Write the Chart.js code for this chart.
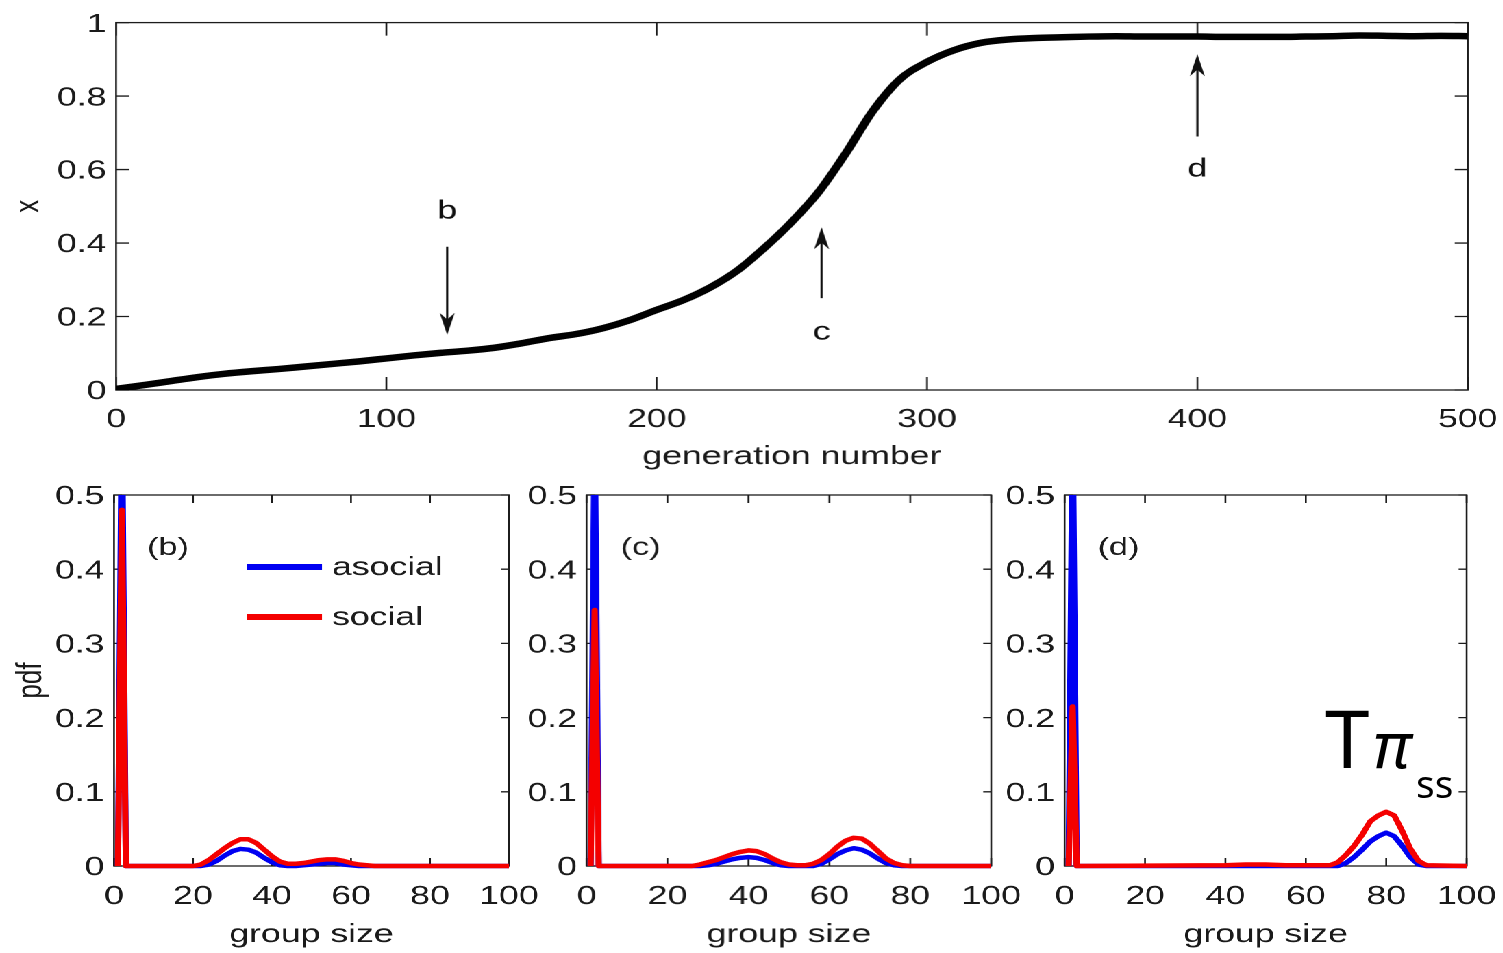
<!DOCTYPE html>
<html>
<head>
<meta charset="utf-8">
<script src="https://cdn.jsdelivr.net/npm/chart.js@4.4.0/dist/chart.umd.min.js"></script>
<style>
  html, body { margin: 0; padding: 0; background: #fff; }
  body { width: 1503px; height: 953px; overflow: hidden; position: relative; }
  #stage { position: absolute; left: 0; top: 0; width: 1120px; height: 953px; transform: scaleX(1.37); transform-origin: 0 0; }
  .wrap { position: absolute; }
  #tpi { position: absolute; left: 0; top: 0; }
</style>
</head>
<body>
<div id="stage">
  <div class="wrap"><canvas id="topChart"></canvas></div>
  <div class="wrap"><canvas id="chartB"></canvas></div>
  <div class="wrap"><canvas id="chartC"></canvas></div>
  <div class="wrap"><canvas id="chartD"></canvas></div>
</div>
<svg id="tpi" width="1503" height="953">
  <text x="1325" y="768" font-family="Noto Sans" font-size="80">T</text>
  <text x="1373" y="768" font-family="Noto Sans" font-style="italic" font-size="64">π</text>
  <text x="1416" y="798" font-family="Noto Sans" font-size="39">ss</text>
</svg>
<script>
// figure is drawn narrow and widened with CSS, like the printed version
const SX = 1.37;
const FONT = "'Liberation Sans', Arial, sans-serif";

// fraction of social learners over the generations
const generations = [0, 10, 20, 30, 40, 50, 60, 70, 80, 90, 100, 110, 120, 130, 140, 150, 160, 170, 180, 190,
  200, 210, 220, 230, 240, 250, 260, 270, 280, 290, 300, 310, 320, 330, 340, 350, 360, 370, 380, 390,
  400, 410, 420, 430, 440, 450, 460, 470, 480, 490, 500];
const socialShare = [0.003, 0.013, 0.024, 0.035, 0.044, 0.051, 0.057, 0.064, 0.071, 0.078,
  0.086, 0.094, 0.101, 0.107, 0.115, 0.127, 0.141, 0.152, 0.168, 0.190,
  0.218, 0.245, 0.280, 0.326, 0.388, 0.458, 0.540, 0.645, 0.760, 0.846,
  0.893, 0.925, 0.945, 0.954, 0.958, 0.960, 0.962, 0.963, 0.962, 0.962,
  0.962, 0.961, 0.961, 0.961, 0.962, 0.963, 0.965, 0.964, 0.963, 0.964, 0.963];
const genTicks = [0, 100, 200, 300, 400, 500];
const shareTicks = [0, 0.2, 0.4, 0.6, 0.8, 1];

// group size distributions at the three marked generations
const sizeTicks = [0, 20, 40, 60, 80, 100];
const pdfTicks = [0, 0.1, 0.2, 0.3, 0.4, 0.5];

const sizesB =    [1, 2, 3, 20, 22, 24, 26, 28, 30, 32, 34, 36, 38, 40, 42, 44, 46, 48, 50, 52, 54, 56, 58, 60, 62, 64, 66, 100];
const asocialB =  [0, 0.62, 0, 0, 0, 0.002, 0.007, 0.014, 0.020, 0.023, 0.022, 0.018, 0.011, 0.005, 0.001, 0, 0, 0.001, 0.002, 0.003, 0.004, 0.004, 0.002, 0.001, 0, 0, 0, 0];
const socialB =   [0, 0.48, 0, 0, 0.002, 0.008, 0.016, 0.024, 0.031, 0.036, 0.036, 0.031, 0.022, 0.013, 0.006, 0.003, 0.003, 0.004, 0.006, 0.008, 0.009, 0.009, 0.007, 0.004, 0.002, 0.001, 0, 0];

const sizesC =    [1, 2, 3, 26, 28, 30, 32, 34, 36, 38, 40, 42, 44, 46, 48, 50, 52, 54, 56, 58, 60, 62, 64, 66, 68, 70, 72, 74, 76, 78, 80, 100];
const asocialC =  [0, 0.60, 0, 0, 0, 0.001, 0.003, 0.006, 0.009, 0.011, 0.012, 0.011, 0.008, 0.004, 0.001, 0, 0, 0, 0, 0.003, 0.009, 0.016, 0.021, 0.024, 0.022, 0.017, 0.010, 0.004, 0.001, 0, 0, 0];
const socialC =   [0, 0.345, 0, 0, 0.002, 0.005, 0.008, 0.012, 0.016, 0.019, 0.021, 0.020, 0.016, 0.010, 0.005, 0.002, 0.001, 0.001, 0.003, 0.008, 0.016, 0.026, 0.034, 0.038, 0.037, 0.030, 0.020, 0.010, 0.004, 0.001, 0, 0];

const sizesD =    [1, 2, 3, 40, 45, 50, 55, 60, 66, 68, 70, 72, 74, 76, 78, 80, 82, 84, 86, 88, 90, 100];
const asocialD =  [0, 0.60, 0, 0, 0, 0, 0, 0, 0, 0, 0.004, 0.012, 0.022, 0.033, 0.040, 0.045, 0.040, 0.027, 0.012, 0.002, 0, 0];
const socialD =   [0, 0.215, 0, 0.001, 0.002, 0.002, 0.001, 0.001, 0.001, 0.005, 0.015, 0.027, 0.042, 0.060, 0.068, 0.073, 0.068, 0.047, 0.023, 0.007, 0.001, 0];

// arrows pointing at the sampled generations
const markers = [
  { label: 'b', gen: 122.5, tail: 0.39, head: 0.15, text: 0.486 },
  { label: 'c', gen: 261, tail: 0.25, head: 0.443, text: 0.157 },
  { label: 'd', gen: 400, tail: 0.69, head: 0.914, text: 0.60 }
];

const BLUE = '#0000f2';
const RED = '#f40000';

const pts = (xs, ys) => xs.map((x, i) => ({ x: x, y: ys[i] }));

// box with inward ticks on all four sides
const matlabBox = {
  id: 'matlabBox',
  beforeDatasetsDraw(chart, args, opts) {
    const { ctx, chartArea: a, scales: { x, y } } = chart;
    ctx.save();
    ctx.strokeStyle = '#1c1c1c';
    ctx.lineWidth = 1.3;
    ctx.strokeRect(a.left, a.top, a.right - a.left, a.bottom - a.top);
    ctx.beginPath();
    x.ticks.forEach(t => {
      const px = x.getPixelForValue(t.value);
      ctx.moveTo(px, a.bottom); ctx.lineTo(px, a.bottom - opts.len);
      ctx.moveTo(px, a.top); ctx.lineTo(px, a.top + opts.len);
    });
    y.ticks.forEach(t => {
      const py = y.getPixelForValue(t.value);
      ctx.moveTo(a.left, py); ctx.lineTo(a.left + opts.len / SX, py);
      ctx.moveTo(a.right, py); ctx.lineTo(a.right - opts.len / SX, py);
    });
    ctx.stroke();
    ctx.restore();
  }
};

const arrows = {
  id: 'arrows',
  afterDatasetsDraw(chart, args, opts) {
    const { ctx, scales: { x, y } } = chart;
    ctx.save();
    ctx.fillStyle = '#111';
    ctx.strokeStyle = '#111';
    ctx.lineWidth = 1.6;
    opts.items.forEach(m => {
      const px = x.getPixelForValue(m.gen);
      const y0 = y.getPixelForValue(m.tail);
      const y1 = y.getPixelForValue(m.head);
      const dir = y1 > y0 ? 1 : -1;
      const len = 22, hw = 7.5 / SX;
      ctx.beginPath();
      ctx.moveTo(px, y0);
      ctx.lineTo(px, y1 - dir * len * 0.6);
      ctx.stroke();
      ctx.beginPath();
      ctx.moveTo(px, y1);
      ctx.lineTo(px - hw, y1 - dir * len);
      ctx.lineTo(px, y1 - dir * len * 0.7);
      ctx.lineTo(px + hw, y1 - dir * len);
      ctx.closePath();
      ctx.fill();
      ctx.font = '26px ' + FONT;
      ctx.textAlign = 'center';
      ctx.textBaseline = 'middle';
      ctx.fillText(m.label, px, y.getPixelForValue(m.text));
    });
    ctx.restore();
  }
};

// panel letter and, for (b), the series key
const panelText = {
  id: 'panelText',
  afterDraw(chart, args, opts) {
    const { ctx, chartArea: a } = chart;
    ctx.save();
    ctx.fillStyle = '#1c1c1c';
    ctx.font = '25px ' + FONT;
    ctx.textAlign = 'center';
    ctx.textBaseline = 'middle';
    ctx.fillText(opts.tag, a.left + 54 / SX, a.top + 53);
    if (opts.key) {
      ctx.font = '26px ' + FONT;
      ctx.textAlign = 'left';
      ctx.lineWidth = 6;
      opts.key.forEach((k, i) => {
        const ly = a.top + 72 + i * 50;
        ctx.strokeStyle = k.color;
        ctx.beginPath();
        ctx.moveTo(a.left + 133 / SX, ly);
        ctx.lineTo(a.left + 208 / SX, ly);
        ctx.stroke();
        ctx.fillText(k.text, a.left + 218 / SX, ly + 1);
      });
    }
    ctx.restore();
  }
};

function tickFont() { return { family: FONT, size: 26 }; }

function makeChart(id, area, pad, cfg) {
  const canvas = document.getElementById(id);
  const wrap = canvas.parentNode;
  wrap.style.left = (area.left - pad.l) / SX + 'px';
  wrap.style.top = (area.top - pad.t) + 'px';
  wrap.style.width = (area.right - area.left + pad.l + pad.r) / SX + 'px';
  wrap.style.height = (area.bottom - area.top + pad.t + pad.b) + 'px';

  return new Chart(canvas, {
    type: 'line',
    data: { datasets: cfg.datasets },
    plugins: cfg.plugins,
    options: {
      responsive: true,
      maintainAspectRatio: false,
      animation: false,
      devicePixelRatio: 2,
      layout: { padding: { top: pad.t, right: pad.r / SX, left: 0, bottom: 0 } },
      elements: { point: { radius: 0 } },
      plugins: Object.assign({ legend: { display: false }, tooltip: { enabled: false } }, cfg.pluginOpts),
      scales: {
        x: {
          type: 'linear',
          min: cfg.xTicks[0],
          max: cfg.xTicks[cfg.xTicks.length - 1],
          grid: { display: false, drawTicks: false },
          border: { display: false },
          afterBuildTicks: s => { s.ticks = cfg.xTicks.map(v => ({ value: v })); },
          afterFit: s => { s.height = pad.b; },
          ticks: { color: '#1a1a1a', font: tickFont(), padding: cfg.xPad, maxRotation: 0, autoSkip: false, callback: v => String(v) },
          title: cfg.xTitle ? { display: true, text: cfg.xTitle, color: '#1a1a1a', font: { family: FONT, size: 26, lineHeight: 1 }, padding: { top: 0, bottom: cfg.xTitlePad } } : { display: false }
        },
        y: {
          type: 'linear',
          min: cfg.yTicks[0],
          max: cfg.yTicks[cfg.yTicks.length - 1],
          grid: { display: false, drawTicks: false },
          border: { display: false },
          afterBuildTicks: s => { s.ticks = cfg.yTicks.map(v => ({ value: v })); },
          afterFit: s => { s.width = pad.l / SX; },
          ticks: { color: '#1a1a1a', font: tickFont(), padding: 7, labelOffset: 2, callback: v => String(v) },
          title: cfg.yTitle ? { display: true, text: cfg.yTitle, color: '#1a1a1a', font: { family: FONT, size: 26, lineHeight: 1 }, padding: { top: cfg.yTitlePad, bottom: 0 } } : { display: false }
        }
      }
    }
  });
}

makeChart('topChart', { left: 116, right: 1467, top: 20, bottom: 390 }, { l: 116, r: 56, t: 20, b: 85 }, {
  xTicks: genTicks, yTicks: shareTicks, xPad: 14,
  xTitle: 'generation number', xTitlePad: 5,
  yTitle: 'x', yTitlePad: 8,
  plugins: [matlabBox, arrows],
  pluginOpts: { matlabBox: { len: 13 }, arrows: { items: markers } },
  datasets: [{
    data: pts(generations, socialShare),
    borderColor: '#000',
    borderWidth: 6.5,
    cubicInterpolationMode: 'monotone',
    borderCapStyle: 'round'
  }]
});

function pdfSets(xs, asocial, social) {
  const common = { borderWidth: 4.5, tension: 0, borderJoinStyle: 'round', clip: { left: 4, top: 0, right: 4, bottom: 4 } };
  return [
    Object.assign({ label: 'asocial', data: pts(xs, asocial), borderColor: BLUE, order: 2 }, common),
    Object.assign({ label: 'social', data: pts(xs, social), borderColor: RED, order: 1 }, common)
  ];
}

const rowArea = { top: 495, bottom: 866 };
const keyItems = [{ text: 'asocial', color: BLUE }, { text: 'social', color: RED }];

makeChart('chartB', Object.assign({ left: 114, right: 509 }, rowArea), { l: 114, r: 56, t: 25, b: 87 }, {
  xTicks: sizeTicks, yTicks: pdfTicks, xPad: 15,
  xTitle: 'group size', xTitlePad: 5,
  yTitle: 'pdf', yTitlePad: 10,
  plugins: [matlabBox, panelText],
  pluginOpts: { matlabBox: { len: 8 }, panelText: { tag: '(b)', key: keyItems } },
  datasets: pdfSets(sizesB, asocialB, socialB)
});

makeChart('chartC', Object.assign({ left: 586, right: 990 }, rowArea), { l: 70, r: 56, t: 25, b: 87 }, {
  xTicks: sizeTicks, yTicks: pdfTicks, xPad: 15,
  xTitle: 'group size', xTitlePad: 5,
  plugins: [matlabBox, panelText],
  pluginOpts: { matlabBox: { len: 8 }, panelText: { tag: '(c)' } },
  datasets: pdfSets(sizesC, asocialC, socialC)
});

makeChart('chartD', Object.assign({ left: 1064, right: 1466 }, rowArea), { l: 70, r: 56, t: 25, b: 87 }, {
  xTicks: sizeTicks, yTicks: pdfTicks, xPad: 15,
  xTitle: 'group size', xTitlePad: 5,
  plugins: [matlabBox, panelText],
  pluginOpts: { matlabBox: { len: 8 }, panelText: { tag: '(d)' } },
  datasets: pdfSets(sizesD, asocialD, socialD)
});
</script>
</body>
</html>
